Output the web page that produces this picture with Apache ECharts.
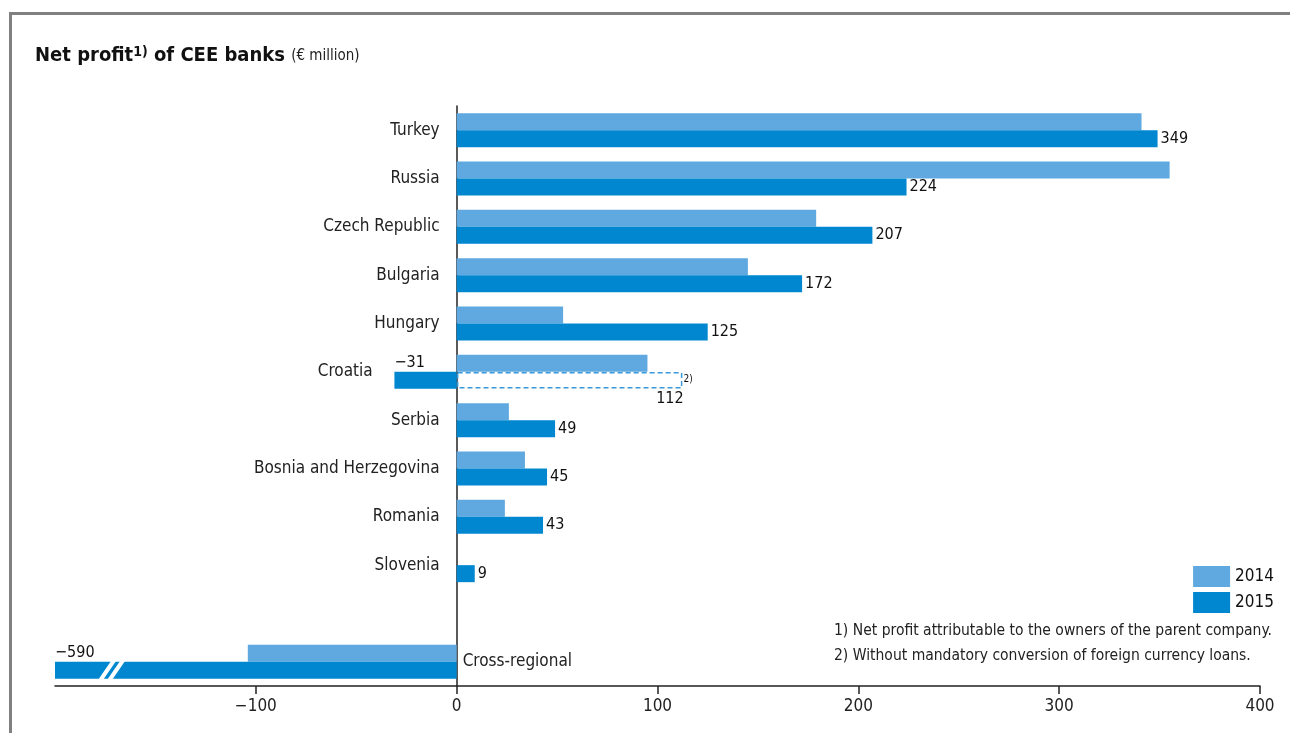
<!DOCTYPE html>
<html>
<head>
<meta charset="utf-8">
<script src="https://cdn.jsdelivr.net/npm/echarts@6/dist/echarts.min.js"></script>
<style>
  html, body { margin: 0; padding: 0; background: #fff; }
  #frame { position: absolute; left: 9px; top: 12px; width: 1290px; height: 740px;
           border-left: 3px solid #808080; border-top: 3px solid #808080; }
  #chart { position: absolute; left: 0; top: 0; width: 1290px; height: 733px; }
</style>
</head>
<body>
<div id="frame"></div>
<div id="chart"></div>
<script>
// categories, top to bottom (empty slot before the cross-regional row)
const categories = ['Turkey', 'Russia', 'Czech Republic', 'Bulgaria', 'Hungary', 'Croatia',
  'Serbia', 'Bosnia and Herzegovina', 'Romania', 'Slovenia', '', 'Cross-regional']
const profit2014 = [341, 355, 179, 145, 53, 95, 26, 34, 24, null, null, -104]
const profit2015 = [349, 224, 207, 172, 125, -31, 49, 45, 43, 9, null, -590]
// Croatia 2015 without mandatory conversion of FX loans
const croatiaAdjusted = [[112, 5]]
const xTicks = [-200, -100, 0, 100, 200, 300, 400]
const footnotes = [
  '1) Net profit attributable to the owners of the parent company.',
  '2) Without mandatory conversion of foreign currency loans.'
]

const FONT = '"Liberation Sans Narrow", "DejaVu Sans Condensed", Arial, sans-serif'
const C14 = '#5fa9e0'
const C15 = '#0087d0'
const BAR = 17
const GRID_LEFT = 55
const GRID_RIGHT = 30
const W = 1290

// y axis sits on x = 0: shift it from the grid's left edge by the width of the negative part
const zeroShift = (W - GRID_LEFT - GRID_RIGHT) * (0 - xTicks[0]) / (xTicks[xTicks.length - 1] - xTicks[0])

const fmt = v => (v < 0 ? '\u2212' + Math.abs(v) : String(v))

const chart = echarts.init(document.getElementById('chart'))

const option = {
  animation: false,
  textStyle: { fontFamily: FONT },
  title: {
    left: 35,
    top: 45,
    padding: 0,
    text: '{b|Net profit}{s|1)}{b| of CEE banks }{n|(\u20ac million)}',
    textStyle: {
      rich: {
        b: { fontFamily: FONT, fontSize: 20, fontWeight: 'bold', color: '#111' },
        s: { fontFamily: FONT, fontSize: 14, fontWeight: 'bold', color: '#111', verticalAlign: 'top', padding: [0, 0, 8, 0] },
        n: { fontFamily: FONT, fontSize: 15, fontWeight: 'normal', color: '#222' }
      }
    }
  },
  legend: {
    orient: 'vertical',
    right: 16,
    top: 566,
    itemWidth: 37,
    itemHeight: 21,
    itemGap: 5,
    padding: 0,
    icon: 'rect',
    textStyle: { fontFamily: FONT, fontSize: 17, color: '#111' },
    data: ['2014', '2015']
  },
  grid: { left: GRID_LEFT, right: GRID_RIGHT, top: 106, bottom: 47, outerBoundsMode: 'none', containLabel: false },
  xAxis: {
    type: 'value',
    min: xTicks[0],
    max: xTicks[xTicks.length - 1],
    interval: 100,
    splitLine: { show: false },
    axisLine: { show: true, lineStyle: { color: '#222', width: 1.5 } },
    axisTick: { show: true, length: 8, lineStyle: { color: '#222', width: 1.5 } },
    axisLabel: {
      margin: 12,
      fontSize: 17,
      color: '#222',
      showMinLabel: false,
      formatter: v => (xTicks.includes(v) && v !== xTicks[0] ? fmt(v) : '')
    }
  },
  yAxis: {
    type: 'category',
    inverse: true,
    data: categories,
    offset: -zeroShift,
    axisLine: { onZero: false, lineStyle: { color: '#222', width: 1.5 } },
    axisTick: { show: false },
    axisLabel: {
      margin: 17,
      fontSize: 17,
      color: '#222',
      formatter: v => {
        if (v === 'Cross-regional') return ''
        // Croatia's label steps aside for the negative bar
        if (v === 'Croatia') return '{c|' + v + '}'
        return v
      },
      rich: {
        c: { fontFamily: FONT, fontSize: 17, color: '#222', padding: [0, 67, 0, 0] }
      }
    }
  },
  series: [
    {
      name: '2014',
      type: 'bar',
      barWidth: BAR,
      barGap: '0%',
      itemStyle: { color: C14 },
      data: profit2014
    },
    {
      name: '2015',
      type: 'bar',
      barWidth: BAR,
      barGap: '0%',
      itemStyle: { color: C15 },
      data: profit2015.map(v => {
        if (v == null) return v
        if (v < 0) {
          return {
            value: v,
            label: { show: true, position: [0, -1], align: 'left', verticalAlign: 'bottom' }
          }
        }
        return v
      }),
      label: {
        show: true,
        position: 'right',
        distance: 3,
        fontFamily: FONT,
        fontSize: 16,
        color: '#111',
        formatter: p => fmt(p.value)
      }
    },
    {
      // dashed outline for Croatia without conversion
      type: 'custom',
      silent: true,
      z: 5,
      data: croatiaAdjusted,
      renderItem: (params, api) => {
        const p0 = api.coord([0, api.value(1)])
        const p1 = api.coord([api.value(0), api.value(1)])
        const y = p0[1]
        return {
          type: 'group',
          children: [
            {
              type: 'rect',
              shape: { x: p0[0] + 1, y: y + 1, width: p1[0] - p0[0] - 1, height: BAR - 2 },
              style: { fill: 'none', stroke: '#3a9ad9', lineWidth: 1.5, lineDash: [5, 3] }
            },
            {
              type: 'text',
              x: p1[0] + 2,
              y: y + 8,
              style: { text: '2)', fontFamily: FONT, fontSize: 10, fill: '#111', align: 'left', verticalAlign: 'middle' }
            },
            {
              type: 'text',
              x: p1[0] + 2,
              y: y + BAR + 2,
              style: { text: String(api.value(0)), fontFamily: FONT, fontSize: 16, fill: '#111', align: 'right', verticalAlign: 'top' }
            }
          ]
        }
      }
    },
    {
      // axis break marks on the clipped cross-regional bar + its label
      type: 'custom',
      silent: true,
      z: 5,
      clip: false,
      data: [[-174, 11]],
      renderItem: (params, api) => {
        const pb = api.coord([api.value(0), api.value(1)])
        const pz = api.coord([0, api.value(1)])
        const y0 = pb[1] - 1
        const y1 = pb[1] + BAR + 1
        const strip = dx => ({
          type: 'polygon',
          shape: { points: [[pb[0] + dx - 9, y1], [pb[0] + dx - 4, y1], [pb[0] + dx + 9, y0], [pb[0] + dx + 4, y0]] },
          style: { fill: '#fff' }
        })
        return {
          type: 'group',
          children: [
            strip(0),
            strip(9),
            {
              type: 'text',
              x: pz[0] + 6,
              y: pz[1],
              style: { text: categories[api.value(1)], fontFamily: FONT, fontSize: 17, fill: '#222', align: 'left', verticalAlign: 'middle' }
            }
          ]
        }
      }
    }
  ],
  graphic: footnotes.map((t, i) => ({
    type: 'text',
    left: 834,
    top: 623 + i * 25,
    style: { text: t, fontFamily: FONT, fontSize: 15.5, fill: '#222' }
  }))
}

chart.setOption(option)
</script>
</body>
</html>
